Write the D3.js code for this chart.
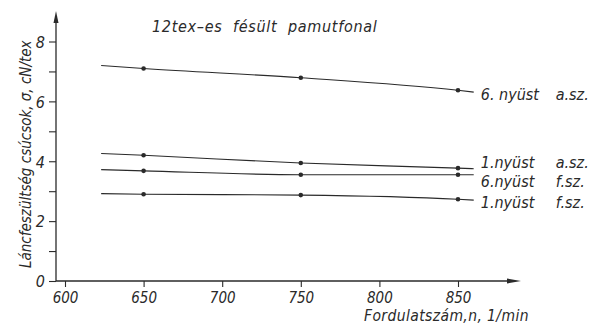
<!DOCTYPE html>
<html>
<head>
<meta charset="utf-8">
<script src="https://cdn.jsdelivr.net/npm/d3@7"></script>
<style>
  body { margin: 0; background: #fff; }
  svg text { font-family: "DejaVu Sans Condensed", "DejaVu Sans", sans-serif; font-style: italic; fill: #2a2a2a; }
</style>
</head>
<body>
<div id="app"></div>
<script>
// chart values
const speeds = [650, 750, 850];
const seriesNames = ['6. nyüst', '1.nyüst', '6.nyüst', '1.nyüst'];
const seriesKinds = ['a.sz.', 'a.sz.', 'f.sz.', 'f.sz.'];
const s6a = [7.10, 6.79, 6.37];
const s1a = [4.20, 3.94, 3.77];
const s6f = [3.68, 3.55, 3.55];
const s1f = [2.90, 2.87, 2.73];
// where the drawn lines start and stop (beyond the measured points)
const lineFrom = 623;
const lineTo = 860;
const startVals = [7.20, 4.26, 3.72, 2.92];
const endVals = [6.31, 3.75, 3.55, 2.70];
const xTicks = [600, 650, 700, 750, 800, 850];
const yTicks = [0, 1, 2, 3, 4, 5, 6, 7, 8];
const yLabels = [0, 2, 4, 6, 8];

const title = '12tex\u2013es  fésült  pamutfonal';
const xTitle = 'Fordulatszám,n, 1/min';
const yTitle = 'Láncfeszültség csúcsok, \u03c3, cN/tex';

const width = 591, height = 324;
const ink = '#2a2a2a';
const axisX = 56;
const labelDy = [8, -1, 12, 8];

const svg = d3.select('#app').append('svg')
  .attr('width', width)
  .attr('height', height);

const x = d3.scaleLinear().domain([600, 850]).range([65, 458]);
const y = d3.scaleLinear().domain([0, 8]).range([281, 41.5]);

// Y axis
const yAxis = d3.axisLeft(y)
  .tickValues(yTicks)
  .tickSize(7)
  .tickFormat(d => yLabels.includes(d) ? d : '');
const gy = svg.append('g')
  .attr('transform', `translate(${axisX},0)`)
  .call(yAxis);
gy.select('.domain').remove();
gy.selectAll('line').attr('stroke', ink).attr('stroke-width', 1.1);
gy.selectAll('text')
  .attr('x', -11)
  .attr('dy', '0.36em')
  .style('font-size', '16px');
gy.append('line')
  .attr('x1', 0).attr('x2', 0)
  .attr('y1', y(0)).attr('y2', 16)
  .attr('stroke', ink).attr('stroke-width', 1.3);
gy.append('path')
  .attr('d', 'M0,11 L-2.5,23 L2.5,23 Z')
  .attr('fill', ink);

// X axis
const xAxis = d3.axisBottom(x).tickValues(xTicks).tickSize(6);
const gx = svg.append('g')
  .attr('transform', `translate(0,${y(0)})`)
  .call(xAxis);
gx.select('.domain').remove();
gx.selectAll('line').attr('stroke', ink).attr('stroke-width', 1.1);
gx.selectAll('text')
  .attr('y', 22)
  .attr('dy', 0)
  .style('font-size', '15px');
gx.append('line')
  .attr('x1', axisX).attr('x2', 515)
  .attr('y1', 0).attr('y2', 0)
  .attr('stroke', ink).attr('stroke-width', 1.3);
gx.append('path')
  .attr('d', 'M521,0 L507,-2.5 L507,2.5 Z')
  .attr('fill', ink);

// titles
svg.append('text')
  .attr('x', 152).attr('y', 32)
  .style('font-size', '16px')
  .style('letter-spacing', '0.7px')
  .style('white-space', 'pre')
  .text(title);

svg.append('text')
  .attr('x', 364).attr('y', 321)
  .style('font-size', '15.5px')
  .style('letter-spacing', '0.4px')
  .text(xTitle);

svg.append('text')
  .attr('transform', `translate(31,268) rotate(-90)`)
  .style('font-size', '15px')
  .text(yTitle);

// series
const allSeries = [s6a, s1a, s6f, s1f];
const line = d3.line()
  .x(d => x(d[0]))
  .y(d => y(d[1]))
  .curve(d3.curveMonotoneX);

allSeries.forEach((vals, i) => {
  const pts = [[lineFrom, startVals[i]]]
    .concat(speeds.map((s, j) => [s, vals[j]]))
    .concat([[lineTo, endVals[i]]]);

  svg.append('path')
    .datum(pts)
    .attr('d', line)
    .attr('fill', 'none')
    .attr('stroke', ink)
    .attr('stroke-width', 1.1);

  svg.selectAll(null)
    .data(speeds.map((s, j) => [s, vals[j]]))
    .enter()
    .append('circle')
    .attr('cx', d => x(d[0]))
    .attr('cy', d => y(d[1]))
    .attr('r', 2.3)
    .attr('fill', ink);

  const ly = y(endVals[i]) + labelDy[i];
  svg.append('text')
    .attr('x', x(lineTo) + 7).attr('y', ly)
    .style('font-size', '16px')
    .text(seriesNames[i]);
  svg.append('text')
    .attr('x', x(lineTo) + 82).attr('y', ly)
    .style('font-size', '16px')
    .text(seriesKinds[i]);
});
</script>
</body>
</html>
